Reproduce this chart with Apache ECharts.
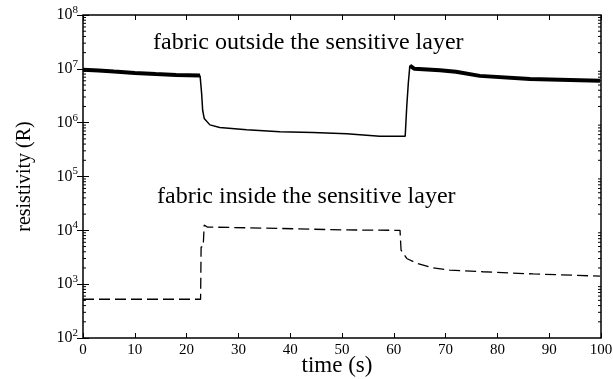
<!DOCTYPE html>
<html>
<head>
<meta charset="utf-8">
<script src="https://cdn.jsdelivr.net/npm/echarts@6/dist/echarts.min.js"></script>
<style>
  html, body { margin: 0; padding: 0; background: #fff; }
  #chart { width: 613px; height: 379px; }
</style>
</head>
<body>
<div id="chart"></div>
<script>
// fabric outside the sensitive layer (solid line), split where the trace is noisy vs smooth
var outsideStart = [[0, 9.6e6], [3, 9.3e6], [6, 8.9e6], [10, 8.4e6], [14, 8.0e6], [18, 7.7e6], [22.6, 7.5e6]];
var outsideMiddle = [[22.6, 7.5e6], [22.9, 3.5e6], [23.1, 1.7e6], [23.4, 1.2e6], [24.5, 9.1e5], [26.4, 8.1e5],
  [31.6, 7.4e5], [38, 6.8e5], [44.4, 6.6e5], [50.9, 6.2e5], [57.3, 5.6e5], [62.2, 5.6e5],
  [62.5, 2.0e6], [62.8, 5.4e6], [63.1, 1.15e7]];
var outsideEnd = [[63.1, 1.15e7], [64, 1.0e7], [68.9, 9.4e6], [72, 8.8e6], [76.6, 7.4e6], [86.3, 6.5e6], [99.8, 6.0e6]];

// fabric inside the sensitive layer (dashed line)
var insideData = [[0, 525], [22.7, 525], [22.8, 4.9e3], [23.2, 5.0e3], [23.4, 1.25e4], [24, 1.15e4],
  [35, 1.1e4], [50, 1.02e4], [61.2, 1.0e4], [61.4, 4.3e3], [62.5, 3.0e3], [64.4, 2.45e3],
  [67.6, 2.0e3], [70.8, 1.82e3], [77.2, 1.7e3], [86.9, 1.55e3], [99.8, 1.41e3]];

var xTicks = [0, 10, 20, 30, 40, 50, 60, 70, 80, 90, 100];
var yDecades = [2, 3, 4, 5, 6, 7, 8];

// minor log tick positions (2..9 x 10^k)
var minorTicks = [];
for (var k = 2; k < 8; k++) {
  for (var m = 2; m < 10; m++) minorTicks.push([0, m * Math.pow(10, k)]);
}

var serif = 'Liberation Serif';
var chart = echarts.init(document.getElementById('chart'));

chart.setOption({
  animation: false,
  grid: {
    left: 83, right: 12, top: 15, bottom: 41, outerBoundsMode: 'none', containLabel: false,
    show: true, borderColor: '#000', borderWidth: 1.5
  },
  xAxis: [{
    type: 'value', min: 0, max: 100, interval: 10,
    axisLine: { show: false },
    axisTick: { inside: true, length: 5, lineStyle: { color: '#000', width: 1 } },
    axisLabel: { fontFamily: serif, fontSize: 15, color: '#000', margin: 5 },
    splitLine: { show: false }
  }, {
    type: 'value', min: 0, max: 100, interval: 10, position: 'top',
    axisLine: { show: false },
    axisTick: { inside: true, length: 5, lineStyle: { color: '#000', width: 1 } },
    axisLabel: { show: false },
    splitLine: { show: false }
  }],
  yAxis: [{
    type: 'log', logBase: 10, min: 100, max: 1e8,
    name: 'resistivity (R)', nameLocation: 'middle', nameGap: 48, nameRotate: 90,
    nameTextStyle: { fontFamily: serif, fontSize: 20, color: '#000' },
    axisLine: { show: false },
    axisTick: { inside: true, length: 6, lineStyle: { color: '#000', width: 1 } },
    axisLabel: {
      margin: 5,
      formatter: function (v) {
        var e = Math.round(Math.log10(v));
        return yDecades.indexOf(e) >= 0 ? '{b|10}{s|' + e + '}' : '';
      },
      rich: {
        b: { fontFamily: serif, fontSize: 16, color: '#000' },
        s: { fontFamily: serif, fontSize: 11, color: '#000', padding: [0, 0, 10, 0] }
      }
    },
    splitLine: { show: false }
  }, {
    type: 'log', logBase: 10, min: 100, max: 1e8, position: 'right',
    axisLine: { show: false },
    axisTick: { inside: true, length: 6, lineStyle: { color: '#000', width: 1 } },
    axisLabel: { show: false },
    splitLine: { show: false }
  }],
  graphic: [
    { type: 'text', left: 153, top: 31, style: { text: 'fabric outside the sensitive layer', font: '24px ' + serif, fill: '#000' } },
    { type: 'text', left: 157, top: 185, style: { text: 'fabric inside the sensitive layer', font: '24px ' + serif, fill: '#000' } },
    { type: 'text', x: 337, y: 366, style: { text: 'time (s)', font: '23px ' + serif, fill: '#000', textAlign: 'center', textVerticalAlign: 'middle' } }
  ],
  series: [
    { type: 'line', data: outsideStart, showSymbol: false, lineStyle: { color: '#000', width: 4 } },
    { type: 'line', data: outsideMiddle, showSymbol: false, lineStyle: { color: '#000', width: 1.5 } },
    { type: 'line', data: outsideEnd, showSymbol: false, lineStyle: { color: '#000', width: 4 } },
    { type: 'line', data: insideData, showSymbol: false, lineStyle: { color: '#000', width: 1.3, type: [11, 5] } },
    {
      type: 'custom', data: minorTicks, silent: true, clip: false,
      renderItem: function (params, api) {
        var l = api.coord([0, api.value(1)]);
        var r = api.coord([100, api.value(1)]);
        var st = { stroke: '#000', lineWidth: 1 };
        return {
          type: 'group', children: [
            { type: 'line', shape: { x1: l[0], y1: l[1], x2: l[0] + 3, y2: l[1] }, style: st },
            { type: 'line', shape: { x1: r[0], y1: r[1], x2: r[0] - 3, y2: r[1] }, style: st }
          ]
        };
      }
    }
  ]
});
</script>
</body>
</html>
